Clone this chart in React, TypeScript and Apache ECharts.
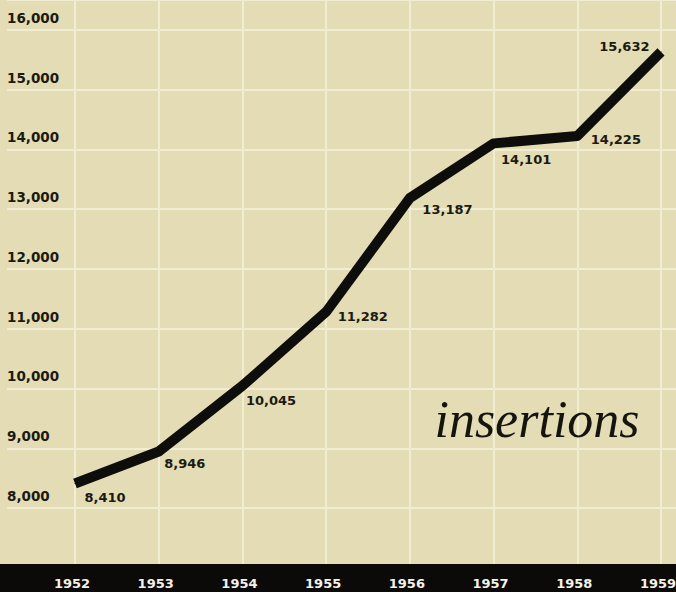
import React, { useEffect, useRef } from "react";
import * as echarts from "echarts";

const years = [1952, 1953, 1954, 1955, 1956, 1957, 1958, 1959];
const insertions = [8410, 8946, 10045, 11282, 13187, 14101, 14225, 15632];
const yTicks = [8000, 9000, 10000, 11000, 12000, 13000, 14000, 15000, 16000];
const titleText = "insertions";

// label placement (relative to each point): [dx, dy, align]
const labelLayout: [number, number, string][] = [
  [10, 14, "left"],
  [6, 13, "left"],
  [4, 15, "left"],
  [12, 5, "left"],
  [13, 12, "left"],
  [8, 17, "left"],
  [14, 4, "left"],
  [-11, -5, "right"],
];

const fmt = (v: number) => v.toLocaleString("en-US");

export default function App() {
  const ref = useRef<HTMLDivElement>(null);
  useEffect(() => {
    if (!ref.current) return;
    const chart = echarts.init(ref.current, null, { renderer: "svg" });
    const pxPerYear = 586 / 7;
    const xMin = years[0] - 68 / pxPerYear;
    const xMax = years[years.length - 1] + 15 / pxPerYear;
    const bg = "#e3dcb4";
    const grid = "#f1edd2";
    const ink = "#1b1a12";
    chart.setOption({
      animation: false,
      backgroundColor: bg,
      grid: {
        left: 7,
        right: 0,
        top: 0,
        bottom: 24.2,
        containLabel: false,
        outerBoundsMode: "none",
      },
      xAxis: [
        {
          type: "value",
          min: xMin,
          max: xMax,
          axisLine: { show: false },
          axisTick: { show: false, customValues: years },
          axisLabel: { show: false, customValues: years },
          splitLine: { show: true, lineStyle: { color: grid, width: 2 } },
          z: 0,
        },
        {
          type: "value",
          min: xMin,
          max: xMax,
          position: "bottom",
          axisLine: { show: false },
          axisTick: { show: false, customValues: years },
          splitLine: { show: false },
          axisLabel: {
            customValues: years,
            formatter: (v: number) => String(v),
            color: "#f4f2ea",
            fontFamily: "DejaVu Sans",
            fontWeight: "bold",
            fontSize: 13,
            margin: 9,
            padding: [0, 6, 0, 0],
            hideOverlap: false,
          },
          z: 60,
        },
      ],
      yAxis: {
        type: "value",
        min: 7000,
        max: 16500,
        interval: 1000,
        axisLine: { show: false },
        axisTick: { show: false },
        splitLine: { show: true, lineStyle: { color: grid, width: 2 } },
        axisLabel: {
          inside: true,
          margin: 0,
          align: "left",
          verticalAlign: "bottom",
          padding: [0, 0, 5, 0],
          color: ink,
          fontFamily: "DejaVu Sans",
          fontWeight: "bold",
          fontSize: 13.5,
          formatter: (v: number) => (yTicks.includes(v) ? fmt(v) : ""),
        },
      },
      graphic: [
        {
          type: "rect",
          left: 0,
          top: 564,
          shape: { width: 676, height: 28 },
          style: { fill: "#0b0a08" },
          z: 50,
        },
        {
          type: "text",
          x: 537,
          y: 419,
          style: {
            text: titleText,
            fill: "#15140f",
            font: "italic 52px 'Liberation Serif'",
            align: "center",
            verticalAlign: "middle",
          },
          z: 20,
        },
      ],
      series: [
        {
          type: "line",
          xAxisIndex: 0,
          data: years.map((y, i) => ({
            value: [y, insertions[i]],
            label: {
              position: [labelLayout[i][0], labelLayout[i][1]],
              align: labelLayout[i][2],
            },
          })),
          symbol: "circle",
          symbolSize: 1,
          itemStyle: { color: "#0d0d0b" },
          lineStyle: { color: "#0d0d0b", width: 10, join: "round", cap: "butt" },
          label: {
            show: true,
            verticalAlign: "middle",
            color: ink,
            fontFamily: "DejaVu Sans",
            fontWeight: "bold",
            fontSize: 13,
            formatter: (p: any) => fmt(p.value[1]),
          },
          z: 10,
        },
      ],
    });
    return () => chart.dispose();
  }, []);
  return (
    <div
      ref={ref}
      style={{ position: "fixed", left: 0, top: 0, width: 676, height: 592 }}
    />
  );
}
